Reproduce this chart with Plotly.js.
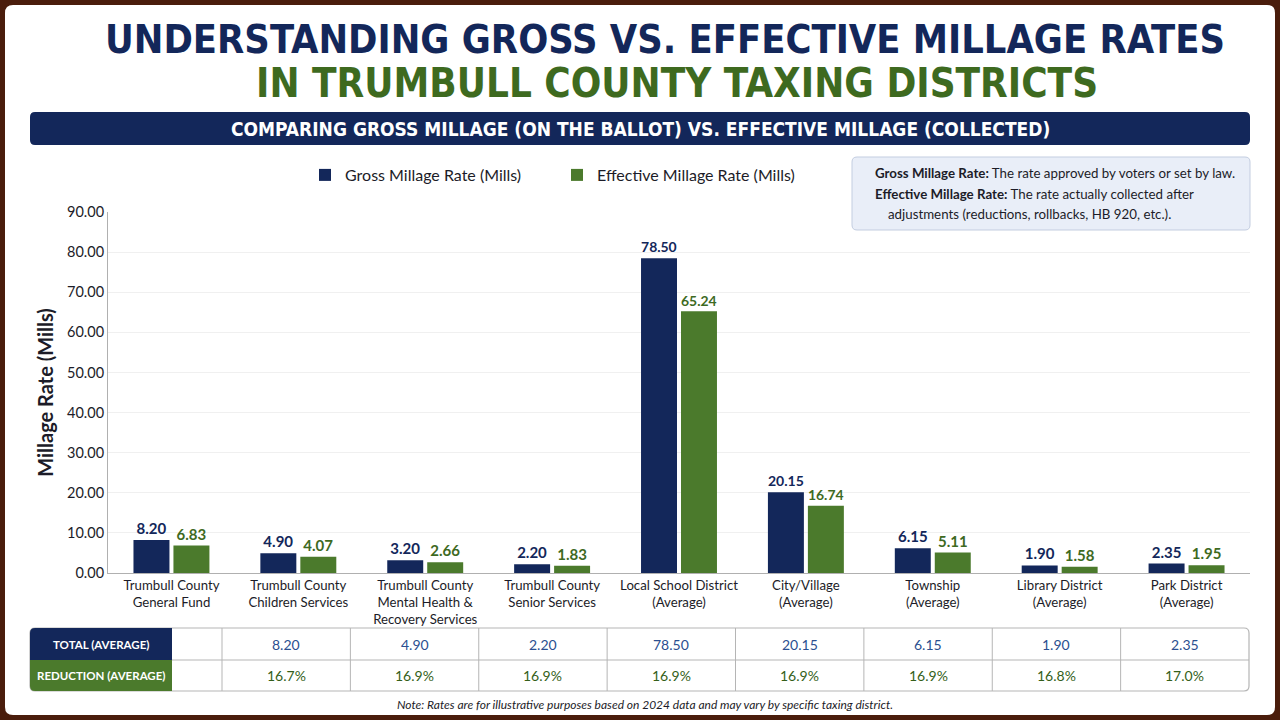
<!DOCTYPE html>
<html>
<head>
<meta charset="utf-8">
<script src="https://cdn.plot.ly/plotly-3.0.1.min.js"></script>
<style>
html,body{margin:0;padding:0;background:#4a1d0c;}
#chart{width:1280px;height:720px;}
</style>
</head>
<body>
<div id="chart"></div>
<script>
// ---- data ----
const categories = [
  "Trumbull County<br>General Fund",
  "Trumbull County<br>Children Services",
  "Trumbull County<br>Mental Health &<br>Recovery Services",
  "Trumbull County<br>Senior Services",
  "Local School District<br>(Average)",
  "City/Village<br>(Average)",
  "Township<br>(Average)",
  "Library District<br>(Average)",
  "Park District<br>(Average)"
];
const grossValues = [8.20, 4.90, 3.20, 2.20, 78.50, 20.15, 6.15, 1.90, 2.35];
const effectiveValues = [6.83, 4.07, 2.66, 1.83, 65.24, 16.74, 5.11, 1.58, 1.95];
const yTickValues = [0, 10, 20, 30, 40, 50, 60, 70, 80, 90];
const tableRowLabels = ["TOTAL (AVERAGE)", "REDUCTION (AVERAGE)"];
const tableTotals = ["8.20", "4.90", "2.20", "78.50", "20.15", "6.15", "1.90", "2.35"];
const tableReductions = ["16.7%", "16.9%", "16.9%", "16.9%", "16.9%", "16.9%", "16.8%", "17.0%"];
const titleLine1 = "UNDERSTANDING GROSS VS. EFFECTIVE MILLAGE RATES";
const titleLine2 = "IN TRUMBULL COUNTY TAXING DISTRICTS";
const bannerText = "COMPARING GROSS MILLAGE (ON THE BALLOT) VS. EFFECTIVE MILLAGE (COLLECTED)";
const infoLines = [
  "<b>Gross Millage Rate:</b> The rate approved by voters or set by law.",
  "<b>Effective Millage Rate:</b> The rate actually collected after",
  "adjustments (reductions, rollbacks, HB 920, etc.)."
];
const noteText = "Note: Rates are for illustrative purposes based on 2024 data and may vary by specific taxing district.";

// ---- style ----
const W = 1280, H = 720;
const NAVY = "#13275a", GREEN = "#4b7a2c", TITLE_GREEN = "#3e6a1f";
const FONT = "Lato, 'Open Sans', sans-serif";
const TITLE_FONT = "'DejaVu Sans Condensed', sans-serif";
const px = x => x / W;
const py = y => 1 - y / H;

const traces = [
  {
    type: "bar", name: "Gross Millage Rate (Mills)", x: categories, y: grossValues,
    marker: {color: NAVY},
    texttemplate: "%{y:.2f}", textposition: "outside", cliponaxis: false,
    textfont: {family: FONT, size: 15, color: NAVY, weight: 700},
    hoverinfo: "skip"
  },
  {
    type: "bar", name: "Effective Millage Rate (Mills)", x: categories, y: effectiveValues,
    marker: {color: GREEN},
    texttemplate: "%{y:.2f}", textposition: "outside", cliponaxis: false,
    textfont: {family: FONT, size: 15, color: TITLE_GREEN, weight: 700},
    hoverinfo: "skip"
  }
];

const shapes = [];
const annotations = [];

function roundRectPath(x0, y0, x1, y1, r, corners) {
  corners = corners || [true, true, true, true];
  const X = v => px(v), Y = v => py(v);
  const rtl = corners[0] ? r : 0, rtr = corners[1] ? r : 0, rbr = corners[2] ? r : 0, rbl = corners[3] ? r : 0;
  return `M ${X(x0 + rtl)},${Y(y0)} L ${X(x1 - rtr)},${Y(y0)} Q ${X(x1)},${Y(y0)} ${X(x1)},${Y(y0 + rtr)} ` +
    `L ${X(x1)},${Y(y1 - rbr)} Q ${X(x1)},${Y(y1)} ${X(x1 - rbr)},${Y(y1)} ` +
    `L ${X(x0 + rbl)},${Y(y1)} Q ${X(x0)},${Y(y1)} ${X(x0)},${Y(y1 - rbl)} ` +
    `L ${X(x0)},${Y(y0 + rtl)} Q ${X(x0)},${Y(y0)} ${X(x0 + rtl)},${Y(y0)} Z`;
}

// white card
shapes.push({type: "path", xref: "paper", yref: "paper", layer: "below",
  path: roundRectPath(5, 5, 1275, 715, 8), fillcolor: "#ffffff", line: {width: 0}});

// titles
annotations.push({xref: "paper", yref: "paper", x: px(665), y: py(39), text: "<b>" + titleLine1 + "</b>",
  showarrow: false, xanchor: "center", yanchor: "middle",
  font: {family: TITLE_FONT, size: 39.4, color: NAVY}});
annotations.push({xref: "paper", yref: "paper", x: px(677), y: py(83), text: "<b>" + titleLine2 + "</b>",
  showarrow: false, xanchor: "center", yanchor: "middle",
  font: {family: TITLE_FONT, size: 40, color: TITLE_GREEN}});

// banner
shapes.push({type: "path", xref: "paper", yref: "paper", path: roundRectPath(30, 112, 1250, 145, 5),
  fillcolor: NAVY, line: {width: 0}});
annotations.push({xref: "paper", yref: "paper", x: px(640), y: py(129), text: "<b>" + bannerText + "</b>",
  showarrow: false, xanchor: "center", yanchor: "middle",
  font: {family: TITLE_FONT, size: 19, color: "#ffffff"}});

// info box
shapes.push({type: "path", xref: "paper", yref: "paper", path: roundRectPath(852, 157, 1250, 230, 5),
  fillcolor: "#e9eef8", line: {color: "#c3cde0", width: 1}});
const infoX = [873, 873, 886], infoY = [173, 194, 214];
infoLines.forEach((t, i) => annotations.push({xref: "paper", yref: "paper", x: px(infoX[i]), y: py(infoY[i]),
  text: t, showarrow: false, xanchor: "left", yanchor: "middle",
  font: {family: FONT, size: 13.3, color: "#1c1c28"}}));

// table
const tTop = 628, tMid = 660, tBot = 691;
const labelX0 = 30, labelX1 = 172, colStart = 222, colEnd = 1249;
const nCols = tableTotals.length;
const colW = (colEnd - colStart) / nCols;
shapes.push({type: "path", xref: "paper", yref: "paper", path: roundRectPath(labelX0, tTop, colEnd, tBot, 5),
  fillcolor: "#ffffff", line: {color: "#b5b5b5", width: 1.2}});
shapes.push({type: "path", xref: "paper", yref: "paper", path: roundRectPath(labelX0, tTop, labelX1, tMid, 5, [true, false, false, false]),
  fillcolor: NAVY, line: {width: 0}});
shapes.push({type: "path", xref: "paper", yref: "paper", path: roundRectPath(labelX0, tMid, labelX1, tBot, 5, [false, false, false, true]),
  fillcolor: GREEN, line: {width: 0}});
shapes.push({type: "line", xref: "paper", yref: "paper", x0: px(labelX1), x1: px(colEnd), y0: py(tMid), y1: py(tMid),
  line: {color: "#b5b5b5", width: 1}});
for (let i = 0; i < nCols; i++) {
  const xb = colStart + i * colW;
  shapes.push({type: "line", xref: "paper", yref: "paper", x0: px(xb), x1: px(xb), y0: py(tTop), y1: py(tBot),
    line: {color: "#b5b5b5", width: 1}});
  const cx = xb + colW / 2;
  annotations.push({xref: "paper", yref: "paper", x: px(cx), y: py((tTop + tMid) / 2), text: tableTotals[i],
    showarrow: false, xanchor: "center", yanchor: "middle", font: {family: FONT, size: 14, color: "#2b4f90"}});
  annotations.push({xref: "paper", yref: "paper", x: px(cx), y: py((tMid + tBot) / 2), text: tableReductions[i],
    showarrow: false, xanchor: "center", yanchor: "middle", font: {family: FONT, size: 14, color: "#355f1a"}});
}
annotations.push({xref: "paper", yref: "paper", x: px((labelX0 + labelX1) / 2), y: py((tTop + tMid) / 2),
  text: "<b>" + tableRowLabels[0] + "</b>", showarrow: false, xanchor: "center", yanchor: "middle",
  font: {family: FONT, size: 11.5, color: "#ffffff"}});
annotations.push({xref: "paper", yref: "paper", x: px((labelX0 + labelX1) / 2), y: py((tMid + tBot) / 2),
  text: "<b>" + tableRowLabels[1] + "</b>", showarrow: false, xanchor: "center", yanchor: "middle",
  font: {family: FONT, size: 11.5, color: "#ffffff"}});

// note
annotations.push({xref: "paper", yref: "paper", x: px(645), y: py(704), text: "<i>" + noteText + "</i>",
  showarrow: false, xanchor: "center", yanchor: "middle", font: {family: FONT, size: 12, color: "#1c1c28"}});

const layout = {
  width: W, height: H,
  margin: {l: 0, r: 0, t: 0, b: 0},
  paper_bgcolor: "#4a1d0c",
  plot_bgcolor: "rgba(0,0,0,0)",
  font: {family: FONT, color: "#1c1c28"},
  barmode: "group", bargap: 0.37, bargroupgap: 0.1,
  showlegend: true,
  legend: {orientation: "h", x: px(305), y: py(158), xanchor: "left", yanchor: "top",
    font: {family: FONT, size: 16, color: "#1c1c28"}, entrywidth: 207, entrywidthmode: "pixels",
    bgcolor: "rgba(0,0,0,0)", itemclick: false, traceorder: "normal"},
  xaxis: {domain: [px(108), px(1250)], type: "category", showline: true, linecolor: "#b0b0b0", linewidth: 1,
    ticks: "", ticklabelstandoff: 0, tickfont: {family: FONT, size: 13.2, color: "#1c1c28"}, showgrid: false, fixedrange: true},
  yaxis: {domain: [py(573), py(212)], range: [0, 90], tickvals: yTickValues, tickformat: ".2f",
    showline: true, linecolor: "#b0b0b0", linewidth: 1, showgrid: true, gridcolor: "#f0f0f0",
    zeroline: false, ticks: "", ticklen: 0, tickfont: {family: FONT, size: 14.5, color: "#1c1c28"},
    title: {text: "<b>Millage Rate (Mills)</b>", font: {family: FONT, size: 20, color: "#1c1c28"}, standoff: 8},
    fixedrange: true},
  shapes: shapes,
  annotations: annotations
};

Plotly.newPlot("chart", traces, layout, {displayModeBar: false, staticPlot: true});
</script>
</body>
</html>
